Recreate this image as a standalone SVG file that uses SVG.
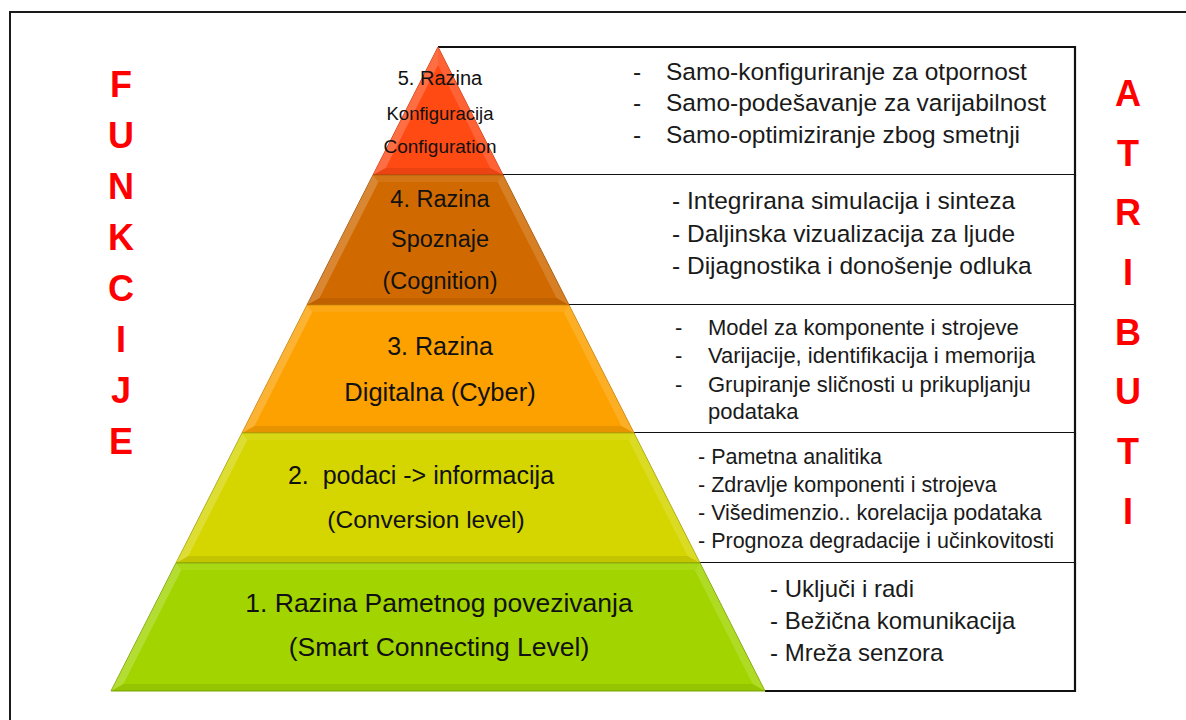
<svg xmlns="http://www.w3.org/2000/svg" width="1186" height="720" viewBox="0 0 1186 720">
<style>
.frame{fill:none;stroke:#1a1a1a;stroke-width:2}
.boxfill{fill:#fff;stroke:none}
.boxline{fill:none;stroke:#111;stroke-width:2.2}
.lvl{font-family:"Liberation Sans",Arial,sans-serif;fill:#111;text-anchor:middle}
.attr{font-family:"Liberation Sans",Arial,sans-serif;fill:#1a1a1a}
.big{font-family:"Liberation Sans",Arial,sans-serif;font-weight:bold;fill:#ff0000;text-anchor:middle;font-size:36px}
.fl{fill:#fff;fill-opacity:0.2}
.fr{fill:#fff;fill-opacity:0.14}
.ft{fill:#fff;fill-opacity:0.08}
.fb{fill:#000;fill-opacity:0.08}
</style>
<rect width="1186" height="720" fill="#fff"/>
<path class="frame" d="M10,722 V12 H1190"/>

<g id="side-labels">
<g id="funkcije">
<text class="big" x="121" y="97">F</text>
<text class="big" x="121" y="148">U</text>
<text class="big" x="121" y="199">N</text>
<text class="big" x="121" y="250">K</text>
<text class="big" x="121" y="301">C</text>
<text class="big" x="121" y="352">I</text>
<text class="big" x="121" y="403">J</text>
<text class="big" x="121" y="454">E</text>
</g>
<g id="atributi">
<text class="big" x="1128" y="106">A</text>
<text class="big" x="1128" y="166">T</text>
<text class="big" x="1128" y="225">R</text>
<text class="big" x="1128" y="285">I</text>
<text class="big" x="1128" y="345">B</text>
<text class="big" x="1128" y="404">U</text>
<text class="big" x="1128" y="464">T</text>
<text class="big" x="1128" y="524">I</text>
</g>
</g>

<g id="attr-box-5">
<polygon class="boxfill" points="438,47 1075,47 1075,175 503,175"/>
<path class="boxline" d="M438,47 H1075 V175 H503"/>
<g class="attr" font-size="24.5">
<text x="633" y="80">-</text><text x="666" y="80">Samo-konfiguriranje za otpornost</text>
<text x="633" y="111">-</text><text x="666" y="111">Samo-podešavanje za varijabilnost</text>
<text x="633" y="143">-</text><text x="666" y="143">Samo-optimiziranje zbog smetnji</text>
</g>
</g>
<g id="attr-box-4">
<polygon class="boxfill" points="503,175 1075,175 1075,305 569,305"/>
<path class="boxline" d="M1075,175 V305 H569"/>
<g class="attr" font-size="24.5">
<text x="672" y="209">- Integrirana simulacija i sinteza</text>
<text x="672" y="242">- Daljinska vizualizacija za ljude</text>
<text x="672" y="274">- Dijagnostika i donošenje odluka</text>
</g>
</g>
<g id="attr-box-3">
<polygon class="boxfill" points="569,305 1075,305 1075,433 634,433"/>
<path class="boxline" d="M1075,305 V433 H634"/>
<g class="attr" font-size="22">
<text x="675" y="335">-</text><text x="708" y="335">Model za komponente i strojeve</text>
<text x="675" y="363">-</text><text x="708" y="363">Varijacije, identifikacija i memorija</text>
<text x="675" y="392">-</text><text x="708" y="392">Grupiranje sličnosti u prikupljanju</text>
<text x="708" y="419">podataka</text>
</g>
</g>
<g id="attr-box-2">
<polygon class="boxfill" points="634,433 1075,433 1075,563 700,563"/>
<path class="boxline" d="M1075,433 V563 H700"/>
<g class="attr" font-size="21.5">
<text x="698" y="464">- Pametna analitika</text>
<text x="698" y="492">- Zdravlje komponenti i strojeva</text>
<text x="698" y="520">- Višedimenzio.. korelacija podataka</text>
<text x="698" y="548">- Prognoza degradacije i učinkovitosti</text>
</g>
</g>
<g id="attr-box-1">
<polygon class="boxfill" points="700,563 1075,563 1075,691 765,691"/>
<path class="boxline" d="M1075,563 V691 H765"/>
<g class="attr" font-size="24">
<text x="770" y="597">- Uključi i radi</text>
<text x="770" y="629">- Bežična komunikacija</text>
<text x="770" y="661">- Mreža senzora</text>
</g>
</g>

<g id="level-5">
<polygon points="438,47 503,175 373,175" fill="#ff4a14" stroke="#d93a10" stroke-width="1"/>
<polygon class="fl" points="438,47 438,65 385.7,168 373,175"/>
<polygon class="fr" points="438,47 503,175 490.3,168 438,65"/>
<polygon class="fb" points="373,175 385.7,168 490.3,168 503,175"/>
<text class="lvl" x="440" y="85" font-size="20">5. Razina</text>
<text class="lvl" x="440" y="120" font-size="18.5">Konfiguracija</text>
<text class="lvl" x="440" y="153" font-size="19">Configuration</text>
</g>
<g id="level-4">
<polygon points="373,175 503,175 569,305 307,305" fill="#d06a00" stroke="#a85400" stroke-width="1"/>
<polygon class="ft" points="373,175 503,175 497.6,182 378.4,182"/>
<polygon class="fl" points="373,175 378.4,182 319.5,298 307,305"/>
<polygon class="fr" points="503,175 569,305 556.5,298 497.6,182"/>
<polygon class="fb" points="307,305 319.5,298 556.5,298 569,305"/>
<text class="lvl" x="440" y="207" font-size="23.5">4. Razina</text>
<text class="lvl" x="440" y="247" font-size="23.5">Spoznaje</text>
<text class="lvl" x="440" y="289" font-size="23.5">(Cognition)</text>
</g>
<g id="level-3">
<polygon points="307,305 569,305 634,433 242,433" fill="#fca100" stroke="#d08400" stroke-width="1"/>
<polygon class="ft" points="307,305 569,305 563.6,312 312.4,312"/>
<polygon class="fl" points="307,305 312.4,312 254.5,426 242,433"/>
<polygon class="fr" points="569,305 634,433 621.5,426 563.6,312"/>
<polygon class="fb" points="242,433 254.5,426 621.5,426 634,433"/>
<text class="lvl" x="440" y="355" font-size="25">3. Razina</text>
<text class="lvl" x="440" y="401" font-size="25.5">Digitalna (Cyber)</text>
</g>
<g id="level-2">
<polygon points="242,433 634,433 700,563 176,563" fill="#d5d500" stroke="#a8a800" stroke-width="1"/>
<polygon class="ft" points="242,433 634,433 628.6,440 247.4,440"/>
<polygon class="fl" points="242,433 247.4,440 188.4,556 176,563"/>
<polygon class="fr" points="634,433 700,563 687.6,556 628.6,440"/>
<polygon class="fb" points="176,563 188.4,556 687.6,556 700,563"/>
<text class="lvl" x="421" y="484" font-size="25" xml:space="preserve">2.  podaci -&gt; informacija</text>
<text class="lvl" x="426" y="528" font-size="24.5">(Conversion level)</text>
</g>
<g id="level-1">
<polygon points="176,563 700,563 765,691 111,691" fill="#a2d500" stroke="#7fa800" stroke-width="1"/>
<polygon class="ft" points="176,563 700,563 694.7,570 181.3,570"/>
<polygon class="fl" points="176,563 181.3,570 123.4,684 111,691"/>
<polygon class="fr" points="700,563 765,691 752.6,684 694.7,570"/>
<polygon class="fb" points="111,691 123.4,684 752.6,684 765,691"/>
<text class="lvl" x="439" y="612" font-size="26.5">1. Razina Pametnog povezivanja</text>
<text class="lvl" x="439" y="656" font-size="26.5">(Smart Connecting Level)</text>
</g>

<g id="connectors"></g>
</svg>
